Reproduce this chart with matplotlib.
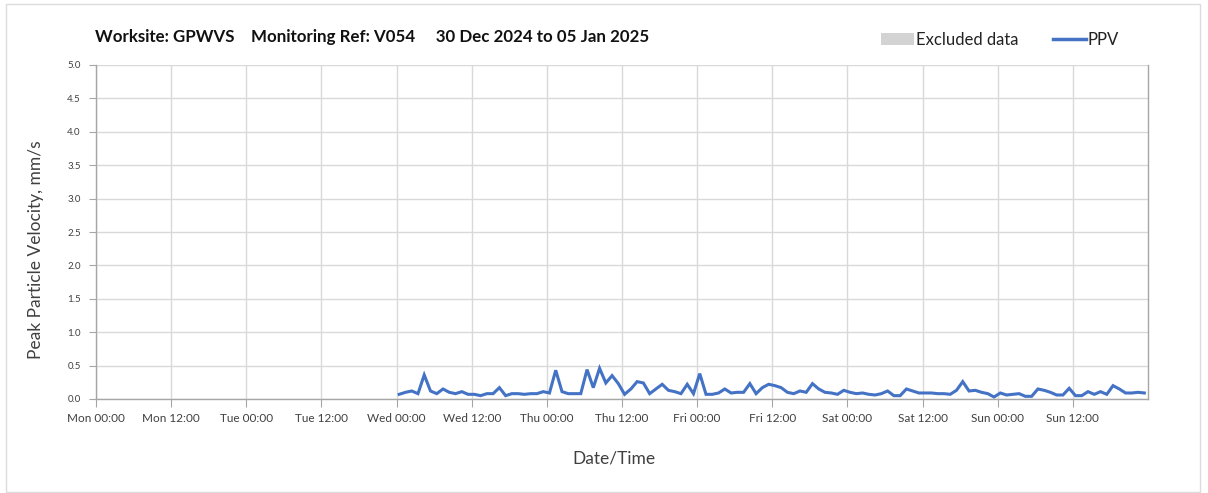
import matplotlib
matplotlib.use("Agg")
import matplotlib.pyplot as plt
from matplotlib.patches import Rectangle, Patch
from matplotlib.lines import Line2D
import numpy as np
import pandas as pd

plt.rcParams['font.family'] = ['Lato', 'DejaVu Sans']

title_text = "Worksite: GPWVS    Monitoring Ref: V054     30 Dec 2024 to 05 Jan 2025"
x_start = "2024-12-30 00:00"
x_end = "2025-01-06 00:00"
data_start = "2025-01-01 00:25"
tick_labels = ["Mon 00:00", "Mon 12:00", "Tue 00:00", "Tue 12:00", "Wed 00:00", "Wed 12:00",
               "Thu 00:00", "Thu 12:00", "Fri 00:00", "Fri 12:00", "Sat 00:00", "Sat 12:00",
               "Sun 00:00", "Sun 12:00"]
ppv = [0.07, 0.10, 0.12, 0.08, 0.36, 0.12, 0.08, 0.15, 0.10, 0.08, 0.11, 0.07,
       0.07, 0.05, 0.08, 0.08, 0.17, 0.05, 0.08, 0.08, 0.07, 0.08, 0.08, 0.11,
       0.09, 0.43, 0.11, 0.08, 0.08, 0.08, 0.44, 0.17, 0.46, 0.24, 0.35, 0.23,
       0.07, 0.15, 0.26, 0.24, 0.08, 0.15, 0.22, 0.13, 0.11, 0.08, 0.22, 0.08,
       0.38, 0.07, 0.07, 0.09, 0.15, 0.09, 0.10, 0.10, 0.23, 0.08, 0.17, 0.22,
       0.20, 0.17, 0.10, 0.08, 0.12, 0.10, 0.23, 0.15, 0.10, 0.09, 0.07, 0.13,
       0.10, 0.08, 0.09, 0.07, 0.06, 0.08, 0.12, 0.05, 0.05, 0.15, 0.12, 0.09,
       0.09, 0.09, 0.08, 0.08, 0.07, 0.13, 0.26, 0.12, 0.13, 0.10, 0.08, 0.03,
       0.09, 0.06, 0.07, 0.08, 0.04, 0.04, 0.15, 0.13, 0.10, 0.06, 0.06, 0.16,
       0.05, 0.05, 0.11, 0.07, 0.11, 0.07, 0.20, 0.15, 0.09, 0.09, 0.10, 0.09]

times = pd.date_range(data_start, periods=len(ppv), freq="h")

W, H = 1208, 493
fig = plt.figure(figsize=(W / 100, H / 100), dpi=100)
fig.patches.append(Rectangle((6 / W, 1 / H), (1200 - 6) / W, (489 - 1) / H,
                             transform=fig.transFigure, fill=False,
                             edgecolor="#dcdcdc", linewidth=1))
ax = fig.add_axes([96 / W, 1 - 399 / H, (1148 - 96) / W, (399 - 65) / H])

line_color = "#4472C4"
grid_color = "#d9d9d9"
ax.plot(times, ppv, color=line_color, linewidth=2.2, solid_joinstyle="miter")

ax.set_xlim(pd.Timestamp(x_start), pd.Timestamp(x_end))
ax.set_ylim(0, 5.0)
ticks = pd.date_range(x_start, periods=len(tick_labels), freq="12h")
ax.set_xticks(ticks)
ax.set_xticklabels(tick_labels, fontsize=8.5, color="#404040")
ax.set_yticks(np.arange(0, 5.01, 0.5))
ax.set_yticklabels([f"{v:.1f}" for v in np.arange(0, 5.01, 0.5)], fontsize=7, color="#404040")
ax.grid(True, color=grid_color, linewidth=1)
ax.set_axisbelow(True)
ax.spines["top"].set_visible(False)
for s in ["left", "bottom", "right"]:
    ax.spines[s].set_color("#a6a6a6")
    ax.spines[s].set_linewidth(1)
ax.tick_params(axis="x", length=6, color="#a6a6a6", pad=4)
ax.tick_params(axis="y", length=5, color="#a6a6a6", pad=6)

ax.set_xlabel("Date/Time", fontsize=12.5, color="#404040", va="center")
ax.xaxis.set_label_coords((614 - 96) / 1052, -(458 - 399) / 334)
ax.set_ylabel("Peak Particle Velocity, mm/s", fontsize=12.5, color="#404040", va="center")
ax.yaxis.set_label_coords((36 - 96) / 1052, (399 - 250) / 334)

fig.text(95 / W, 1 - 37 / H, title_text, fontsize=12.2, fontweight="bold",
         color="#111111", va="center", ha="left")

handles = [Patch(facecolor="#d3d3d3", edgecolor="none", label="Excluded data"),
           Line2D([0], [0], color=line_color, linewidth=2.5, label="PPV")]
fig.legend(handles=handles, loc="center right", bbox_to_anchor=(1134 / W, 1 - 40 / H),
           ncol=2, frameon=False, fontsize=12, handlelength=2.0, handletextpad=0.1,
           columnspacing=2.05, labelcolor="#222222")

fig.savefig("out.png", dpi=100)
